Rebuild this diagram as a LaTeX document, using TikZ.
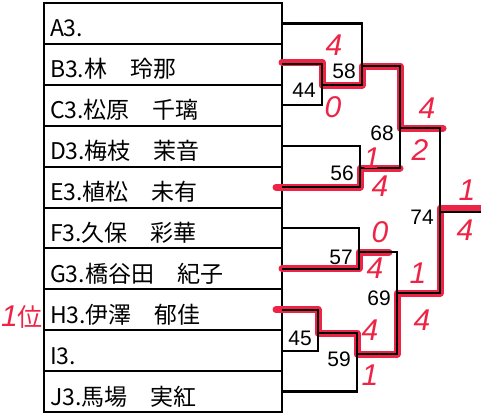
\documentclass[tikz,border=0pt]{standalone}
\usepackage{fontspec}
\setmainfont{Liberation Sans}
\newfontfamily\jpfont{Noto Sans CJK JP}
\usepackage{tikz}
\definecolor{penRed}{RGB}{238, 36, 70}
\tikzset{
  namebox/.style={draw, line width=2pt, outer sep=0pt, inner sep=0pt,
    anchor=north west, minimum width=238pt, minimum height=40.9pt,
    text width=226pt, align=left, text height=27pt, text depth=0pt,
    font=\jpfont\fontsize{23}{23}\selectfont},
  bracket/.style={line width=2.2pt, line join=miter},
  win/.style={draw=penRed, line width=7pt, line cap=round, line join=round},
  score/.style={inner sep=0pt, anchor=east, xshift=-6pt, yshift=-5pt,
    font=\fontsize{21}{21}\selectfont},
  pen/.style={text=penRed, inner sep=0pt, font=\fontsize{30}{30}\selectfont\itshape}
}
\begin{document}
\begin{tikzpicture}[x=1pt, y=-1pt]
    \useasboundingbox (0,0) rectangle (481,415);

    % entry list
    \node[namebox] (rA) at (44,3) {A3.};
    \node[namebox] (rB) at (44,43.9) {B3.林　玲那};
    \node[namebox] (rC) at (44,84.8) {C3.松原　千璃};
    \node[namebox] (rD) at (44,125.7) {D3.梅枝　茉音};
    \node[namebox] (rE) at (44,166.6) {E3.植松　未有};
    \node[namebox] (rF) at (44,207.5) {F3.久保　彩華};
    \node[namebox] (rG) at (44,248.4) {G3.橋谷田　紀子};
    \node[namebox] (rH) at (44,289.3) {H3.伊澤　郁佳};
    \node[namebox] (rI) at (44,330.2) {I3.};
    \node[namebox] (rJ) at (44,371.1) {J3.馬場　実紅};

    % match exits
    \coordinate (o44) at (322,85);
    \coordinate (o58) at (362,66);
    \coordinate (o56) at (360,168);
    \coordinate (o68) at (400,128);
    \coordinate (o57) at (359,252);
    \coordinate (o45) at (318,333);
    \coordinate (o59) at (357,354);
    \coordinate (o69) at (397,293);
    \coordinate (o74) at (440,212);
    \coordinate (fin) at (481,212);

    % winners marked in pen
    \draw[win] ([yshift=2pt]rB.east) -| (o44) -| (o58) -| (o68) -- ([xshift=3pt]o68 -| o74);
    \draw[win] ([xshift=-6pt]rE.east) -| (o56) -- (o56 -| o68);
    \draw[win] (rG.east) -| (o57) -- ([xshift=-8pt]o57 -| o69);
    \draw[win] ([xshift=-6pt]rH.east) -| (o45) -| (o59) -| (o69) -| ([yshift=4pt]o74) -- ([yshift=4pt]fin);

    % bracket
    \draw[bracket] (rB.east) -| (o44) |- (rC.east);
    \draw[bracket] (rA.east) -| (o58) |- (o44);
    \draw[bracket] (rD.east) -| (o56) |- (rE.east);
    \draw[bracket] (o58) -| (o68) |- (o56);
    \draw[bracket] (rF.east) -| (o57) |- (rG.east);
    \draw[bracket] (rH.east) -| (o45) |- (rI.east);
    \draw[bracket] (o45) -| (o59) |- (rJ.east);
    \draw[bracket] (o57) -| (o69) |- (o59);
    \draw[bracket] (o68) -| (o74) |- (o69);
    \draw[bracket] (o74) -- (fin);

    \node[score] (n44) at (o44) {44};
    \node[score] (n58) at (o58) {58};
    \node[score] (n56) at (o56) {56};
    \node[score] (n68) at (o68) {68};
    \node[score] (n57) at (o57) {57};
    \node[score] (n45) at (o45) {45};
    \node[score] (n59) at (o59) {59};
    \node[score] (n69) at (o69) {69};
    \node[score] (n74) at (o74) {74};

    % game counts
    \node[pen] (g58t) at (334,45) {4};
    \node[pen] (g58b) at (333,107) {0};
    \node[pen] (g68t) at (427,108) {4};
    \node[pen] (g68b) at (420,150) {2};
    \node[pen] (g56t) at (372,158) {1};
    \node[pen] (g56b) at (380,186) {4};
    \node[pen] (g74t) at (467,190) {1};
    \node[pen] (g74b) at (465,230) {4};
    \node[pen] (g57t) at (380,232) {0};
    \node[pen] (g57b) at (375,268) {4};
    \node[pen] (g69t) at (418,273) {1};
    \node[pen] (g69b) at (422,320) {4};
    \node[pen] (g59t) at (370,330) {4};
    \node[pen] (g59b) at (370,375) {1};
    \node[pen] (rank) at (22,317) {1{\upshape\jpfont\fontsize{25}{25}\selectfont 位}};
\end{tikzpicture}
\end{document}
